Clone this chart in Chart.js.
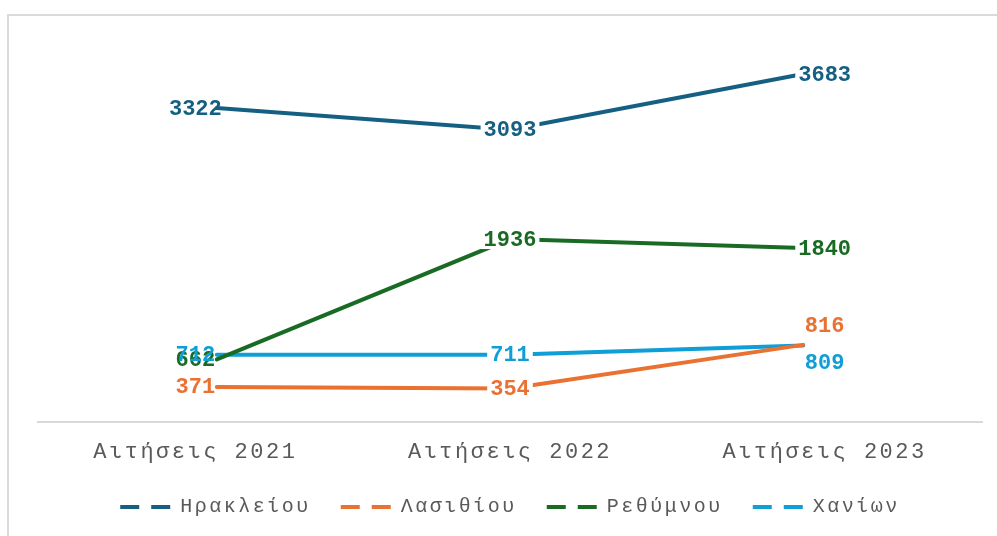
<!DOCTYPE html>
<html>
<head>
<meta charset="utf-8">
<script src="https://cdn.jsdelivr.net/npm/chart.js@4.4.1/dist/chart.umd.min.js"></script>
<style>
  html, body { margin: 0; padding: 0; background: #fff; overflow: hidden; }
  #frame { position: absolute; left: 7px; top: 14px; width: 1100px; height: 700px; border: 2px solid #dadada; box-sizing: border-box; }
  #chart { position: absolute; left: 0; top: 0; }
</style>
</head>
<body>
<div id="frame"></div>
<canvas id="chart" width="997" height="536"></canvas>
<script>
const categories = ["Αιτήσεις 2021", "Αιτήσεις 2022", "Αιτήσεις 2023"];
const seriesNames = ["Ηρακλείου", "Λασιθίου", "Ρεθύμνου", "Χανίων"];
const heraklion = [3322, 3093, 3683];
const lasithi = [371, 354, 816];
const rethymno = [662, 1936, 1840];
const chania = [712, 711, 809];
const seriesColors = ["#156082", "#E97132", "#196B24", "#0F9ED5"];

// where each value label sits relative to its point
const labelPlacement = [
  ["center", "center", "center"],
  ["center", "center", "above"],
  ["center", "center", "center"],
  ["center", "center", "below"],
];
// labels in the 2022/2023 columns knock the line out behind them
const labelMasked = [false, true, true];

const FONT = "'Liberation Mono', 'DejaVu Sans Mono', monospace";

const seriesValues = [heraklion, lasithi, rethymno, chania];

function spacing(chart) {
  chart.ctx.letterSpacing = "2.5px";
}

const letterSpacingPlugin = {
  id: "letterSpacing",
  beforeLayout: spacing,
  beforeDraw: spacing,
};

const valueLabels = {
  id: "valueLabels",
  afterDatasetsDraw(chart) {
    const { ctx, scales } = chart;
    ctx.save();
    ctx.letterSpacing = "0px";
    ctx.font = "bold 22px " + FONT;
    ctx.textAlign = "center";
    ctx.textBaseline = "middle";
    chart.data.datasets.forEach((ds, si) => {
      ds.data.forEach((pt, i) => {
        const text = String(pt.y);
        const x = scales.x.getPixelForValue(i);
        let y = scales.y.getPixelForValue(pt.y);
        const place = labelPlacement[si][i];
        if (place === "above") y -= 19;
        if (place === "below") y += 17;
        if (labelMasked[i]) {
          const w = ctx.measureText(text).width;
          ctx.fillStyle = "#fff";
          ctx.fillRect(x - w / 2 - 3, y - 10, w + 6, 20);
        }
        ctx.fillStyle = ds.borderColor;
        ctx.fillText(text, x, y + 1);
      });
    });
    ctx.restore();
  },
};

const datasets = seriesNames.map((name, si) => ({
  label: name,
  data: seriesValues[si].map((v, i) => ({ x: i, y: v })),
  xAxisID: "xd",
  yAxisID: "y",
  borderColor: seriesColors[si],
  backgroundColor: seriesColors[si],
  borderWidth: 4,
  borderCapStyle: "round",
  pointRadius: 0,
  tension: 0,
  fill: false,
}));

new Chart(document.getElementById("chart"), {
  type: "line",
  data: { labels: categories, datasets },
  options: {
    responsive: false,
    animation: false,
    devicePixelRatio: 1,
    layout: { padding: { left: 38, right: 15, top: 44, bottom: 9 } },
    scales: {
      x: {
        type: "category",
        offset: true,
        grid: { display: false, drawTicks: false },
        border: { display: true, color: "#d9d9d9", width: 2 },
        ticks: {
          color: "#595959",
          padding: 17,
          maxRotation: 0,
          autoSkip: false,
          font: { family: FONT, size: 22 },
        },
        afterFit: (scale) => {
          scale.height = 45;
        },
      },
      // the lines sit a little inside the category centres
      xd: {
        type: "linear",
        display: false,
        min: -0.61,
        max: 2.61,
      },
      y: {
        display: false,
        min: 0,
        max: 4000,
      },
    },
    plugins: {
      tooltip: { enabled: false },
      legend: {
        position: "bottom",
        labels: {
          usePointStyle: true,
          pointStyle: "line",
          pointStyleWidth: 50,
          padding: 30,
          color: "#595959",
          font: { family: FONT, size: 20 },
          generateLabels(chart) {
            const items = Chart.defaults.plugins.legend.labels.generateLabels(chart);
            items.forEach((item) => {
              item.lineDash = [19, 12];
              item.lineWidth = 4;
              item.lineCap = "butt";
              item.pointStyle = "line";
            });
            return items;
          },
        },
      },
    },
  },
  plugins: [letterSpacingPlugin, valueLabels],
});
</script>
</body>
</html>
